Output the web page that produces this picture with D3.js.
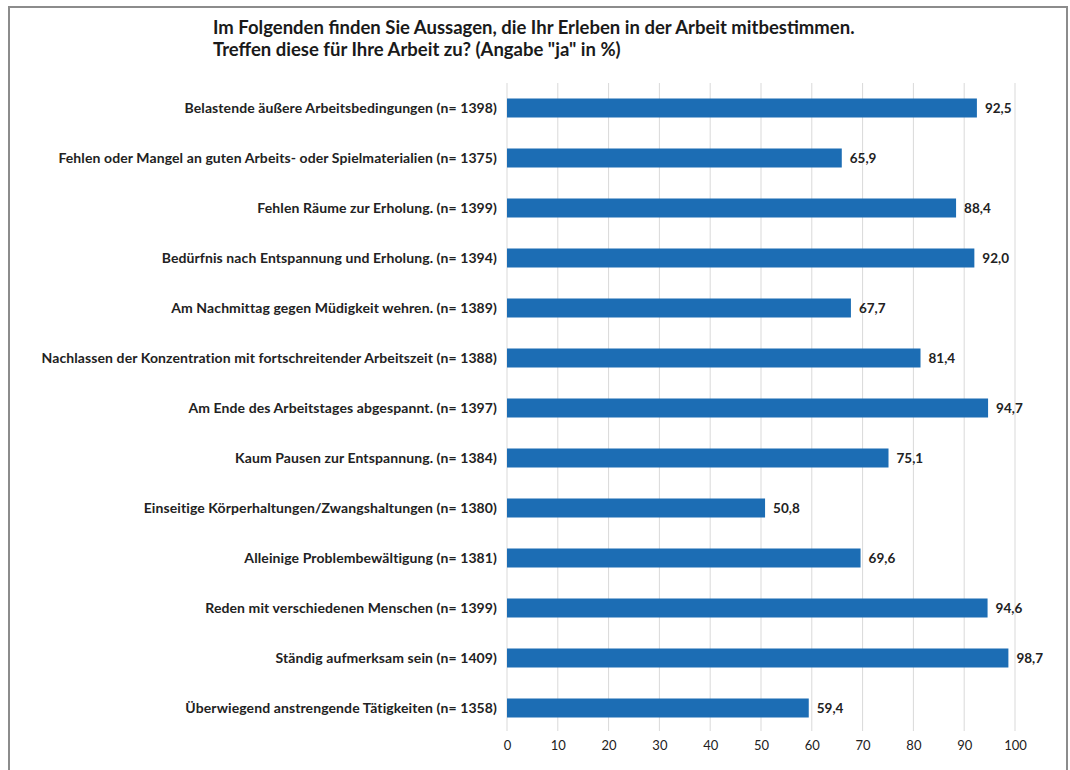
<!DOCTYPE html>
<html>
<head>
<meta charset="utf-8">
<script src="https://cdn.jsdelivr.net/npm/d3@7"></script>
<style>
  body { margin: 0; background: #fff; }
  svg { display: block; font-family: Lato, "Open Sans", sans-serif; }
</style>
</head>
<body>
<div id="chart"></div>
<script>
// data
const categories = [
    "Belastende äußere Arbeitsbedingungen (n= 1398)",
    "Fehlen oder Mangel an guten Arbeits- oder Spielmaterialien (n= 1375)",
    "Fehlen Räume zur Erholung. (n= 1399)",
    "Bedürfnis nach Entspannung und Erholung. (n= 1394)",
    "Am Nachmittag gegen Müdigkeit wehren. (n= 1389)",
    "Nachlassen der Konzentration mit fortschreitender Arbeitszeit (n= 1388)",
    "Am Ende des Arbeitstages abgespannt. (n= 1397)",
    "Kaum Pausen zur Entspannung. (n= 1384)",
    "Einseitige Körperhaltungen/Zwangshaltungen (n= 1380)",
    "Alleinige Problembewältigung (n= 1381)",
    "Reden mit verschiedenen Menschen (n= 1399)",
    "Ständig aufmerksam sein (n= 1409)",
    "Überwiegend anstrengende Tätigkeiten (n= 1358)"
];
const values = [92.5, 65.9, 88.4, 92.0, 67.7, 81.4, 94.7, 75.1, 50.8, 69.6, 94.6, 98.7, 59.4];
const tickValues = [0, 10, 20, 30, 40, 50, 60, 70, 80, 90, 100];
const titleLines = [
    "Im Folgenden finden Sie Aussagen, die Ihr Erleben in der Arbeit mitbestimmen.",
    "Treffen diese für Ihre Arbeit zu? (Angabe \"ja\" in %)"
];

const width = 1070, height = 770;

const svg = d3.select("#chart")
    .append("svg")
        .attr("width", width)
        .attr("height", height)

// frame (no bottom edge, as in the picture)
svg.append("path")
    .attr("d", "M9,770 V7 H1067 V770")
    .attr("fill", "none")
    .attr("stroke", "#8c8c8c")
    .attr("stroke-width", 2)

// title
svg.append("g").selectAll("text")
    .data(titleLines)
    .join("text")
        .attr("x", 213)
        .attr("y", (d, i) => 34 + i * 22)
        .attr("fill", "#1a1a1a")
        .style("font-size", "18.5px")
        .style("font-weight", "700")
        .text(d => d)

// scales
const x = d3.scaleLinear()
    .domain([0, 100])
    .range([507, 1015]);

const y = d3.scaleBand()
    .domain(categories)
    .range([83, 733])
    .paddingInner(0.62)
    .paddingOuter(0.31);

// gridlines
svg.append("g").selectAll("line")
    .data(tickValues)
    .join("line")
        .attr("x1", d => x(d))
        .attr("x2", d => x(d))
        .attr("y1", 83)
        .attr("y2", 731)
        .attr("stroke", "#d9d9d9")
        .attr("stroke-width", 1)

// x axis labels
const xAxis = svg.append("g")
    .attr("transform", "translate(0,731)")
    .call(d3.axisBottom(x).tickValues(tickValues).tickSize(0).tickPadding(10).tickFormat(d3.format("d")))
xAxis.select(".domain").remove()
xAxis.selectAll("text")
    .attr("fill", "#222")
    .style("font-size", "13px")
    .style("font-family", "Lato, sans-serif")

// category labels
svg.append("g").selectAll("text")
    .data(categories)
    .join("text")
        .attr("x", 497)
        .attr("y", d => y(d) + y.bandwidth() / 2)
        .attr("dy", "0.35em")
        .attr("text-anchor", "end")
        .attr("fill", "#222")
        .style("font-size", "14px")
        .style("font-weight", "700")
        .style("letter-spacing", "0.1px")
        .text(d => d)

// bars
const rows = categories.map((c, i) => ({ cat: c, val: values[i] }));

svg.append("g").selectAll("rect")
    .data(rows)
    .join("rect")
        .attr("x", x(0))
        .attr("y", d => y(d.cat))
        .attr("width", d => x(d.val) - x(0))
        .attr("height", y.bandwidth())
        .attr("fill", "#1c6db4")

// value labels
svg.append("g").selectAll("text")
    .data(rows)
    .join("text")
        .attr("x", d => x(d.val) + 8)
        .attr("y", d => y(d.cat) + y.bandwidth() / 2)
        .attr("dy", "0.35em")
        .attr("fill", "#222")
        .style("font-size", "13.5px")
        .style("font-weight", "700")
        .text(d => d3.format(".1f")(d.val).replace(".", ","))
</script>
</body>
</html>
